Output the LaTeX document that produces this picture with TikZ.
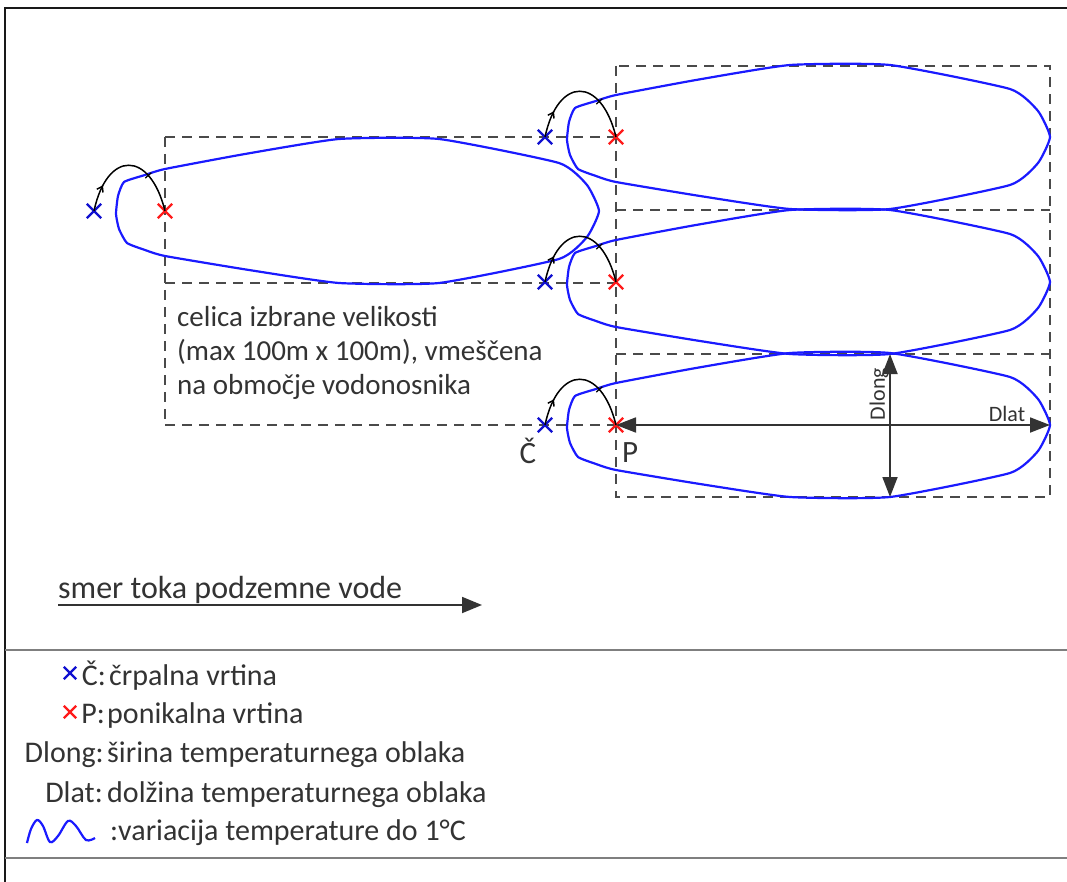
\documentclass[tikz,border=0pt]{standalone}
\usepackage{fontspec}
\setmainfont{Carlito}
\usetikzlibrary{arrows.meta,decorations.markings,shapes.misc}
\definecolor{dashgray}{HTML}{4A4A4A}
\definecolor{txt}{HTML}{333333}
\definecolor{cblue}{HTML}{1A1AFF}
\definecolor{xblue}{HTML}{1010D0}
\definecolor{xred}{HTML}{FF1A1A}
\definecolor{rulegray}{HTML}{7F7F7F}
\newcommand\plumeshape{plot[smooth cycle, tension=0.3] coordinates {(-49,3) (-47,-15) (-41,-29) (-20,-36) (0,-42) (80,-57) (174,-72) (274,-72) (394,-48) (422,-26) (434,0) (422,26) (394,48) (274,72) (174,72) (84,59) (0,45) (-20,39) (-38,32) (-46,18)}}
\begin{document}
\begin{tikzpicture}[x=1pt,y=-1pt,
  dashln/.style={draw=dashgray, line width=2.2pt, dash pattern=on 10pt off 7pt},
  plume/.style={draw=cblue, line width=2.2pt},
  wellC/.style={cross out, draw=xblue, line width=2.4pt, minimum size=12pt, inner sep=0pt},
  wellP/.style={cross out, draw=xred, line width=2.4pt, minimum size=12pt, inner sep=0pt},
  legC/.style={cross out, draw=xblue, line width=2.4pt, minimum size=10pt, inner sep=0pt},
  legP/.style={cross out, draw=xred, line width=2.4pt, minimum size=10pt, inner sep=0pt},
  loopln/.style={draw=black, line width=1.5pt, postaction={decorate},
    decoration={markings,
      mark=at position 0.22 with {\arrow{Straight Barb[length=5pt,width=7pt]}},
      mark=at position 0.68 with {\draw[line width=1.2pt] (0pt,-4pt)--(0pt,4pt);}}},
  dim/.style={draw=txt, line width=1.8pt, {Triangle[length=20pt,width=15pt]}-{Triangle[length=20pt,width=15pt]}},
  flow/.style={draw=txt, line width=1.8pt, -{Triangle[length=20pt,width=16pt]}},
  celltext/.style={inner sep=0pt, text=txt, font=\fontsize{29}{34}\selectfont},
  legtext/.style={inner sep=0pt, text=txt, font=\fontsize{30}{36}\selectfont},
  bigtext/.style={inner sep=0pt, text=txt, font=\fontsize{32}{38}\selectfont},
  lbl/.style={inner sep=0pt, text=txt, font=\fontsize{31}{36}\selectfont},
  dimtext/.style={inner sep=0pt, text=txt, font=\fontsize{22}{26}\selectfont}
]
\useasboundingbox (0,0) rectangle (1067,882);
\fill[white] (0,0) rectangle (1067,882);

% frame
\draw[line width=2.6pt, draw=black!90] (5,882) -- (5,8) -- (1067,8);
\draw[rulegray, line width=2.4pt] (5,650) -- (1067,650);
\draw[rulegray, line width=2.4pt] (5,858) -- (1067,858);

% dashed cells
\draw[dashln] (616,66) rectangle (1050,497);
\draw[dashln] (616,210) -- (1050,210);
\draw[dashln] (616,354) -- (1050,354);
\draw[dashln] (165,137) -- (616,137);
\draw[dashln] (165,283) -- (616,283);
\draw[dashln] (165,425) -- (616,425);
\draw[dashln] (165,137) -- (165,425);

% plumes
\begin{scope}[shift={(165,211)}]\draw[plume] \plumeshape;\end{scope}
\begin{scope}[shift={(616,137)}]\draw[plume] \plumeshape;\end{scope}
\begin{scope}[shift={(616,282)}]\draw[plume] \plumeshape;\end{scope}
\begin{scope}[shift={(616,425)}]\draw[plume] \plumeshape;\end{scope}

% wells
\node[wellC] (C1) at (94,211) {};
\node[wellP] (P1) at (165,211) {};
\node[wellC] (C2) at (545,137) {};
\node[wellP] (P2) at (616,137) {};
\node[wellC] (C3) at (545,282) {};
\node[wellP] (P3) at (616,282) {};
\node[wellC] (C4) at (545,425) {};
\node[wellP] (P4) at (616,425) {};

% loops
\draw[loopln] (C1.center) .. controls +(13,-61) and +(-15,-61) .. (P1.center);
\draw[loopln] (C2.center) .. controls +(13,-61) and +(-15,-61) .. (P2.center);
\draw[loopln] (C3.center) .. controls +(13,-61) and +(-15,-61) .. (P3.center);
\draw[loopln] (C4.center) .. controls +(13,-61) and +(-15,-61) .. (P4.center);

% labels C, P
\node[lbl, anchor=base] (labC) at (528,463) {Č};
\node[lbl, anchor=base west] (labP) at (622,462) {P};

% dimensions
\coordinate (tipR) at (1050,425);
\coordinate (topD) at (890,354);
\coordinate (botD) at (890,497);
\draw[dim] (P4.center) -- (tipR);
\draw[dim] (topD) -- (botD);
\node[dimtext, rotate=90] (dlong) at (879,394) {Dlong};
\node[dimtext] (dlat) at (1007,414) {Dlat};

% cell text
\node[celltext, anchor=base west] (cell1) at (177,326) {celica izbrane velikosti};
\node[celltext, anchor=base west] (cell2) at (177,360) {(max 100m x 100m), vmeščena};
\node[celltext, anchor=base west] (cell3) at (177,394) {na območje vodonosnika};

% flow direction
\node[bigtext, anchor=base west] (flowtxt) at (58,598) {smer toka podzemne vode};
\coordinate (flowS) at (58,605);
\coordinate (flowE) at (482,605);
\draw[flow] (flowS) -- (flowE);

% legend
\node[legC] (lc) at (70,673) {};
\node[legtext, anchor=base east] (lk1) at (106,685) {Č:};
\node[legtext, anchor=base west] (lv1) at (109,685) {črpalna vrtina};
\node[legP] (lp) at (70,712) {};
\node[legtext, anchor=base east] (lk2) at (105,723) {P:};
\node[legtext, anchor=base west] (lv2) at (107,723) {ponikalna vrtina};
\node[legtext, anchor=base east] (lk3) at (104,762) {Dlong:};
\node[legtext, anchor=base west] (lv3) at (107,762) {širina temperaturnega oblaka};
\node[legtext, anchor=base east] (lk4) at (103,802) {Dlat:};
\node[legtext, anchor=base west] (lv4) at (107,802) {dolžina temperaturnega oblaka};
\draw[plume] plot[smooth, tension=0.55] coordinates {(27,843) (31,829) (37,820) (43,826) (50,842) (58,836) (68,821) (76,826) (86,840) (95,838)};
\node[legtext, anchor=base west] (lv5) at (110,840) {:variacija temperature do 1°C};
\end{tikzpicture}
\end{document}
